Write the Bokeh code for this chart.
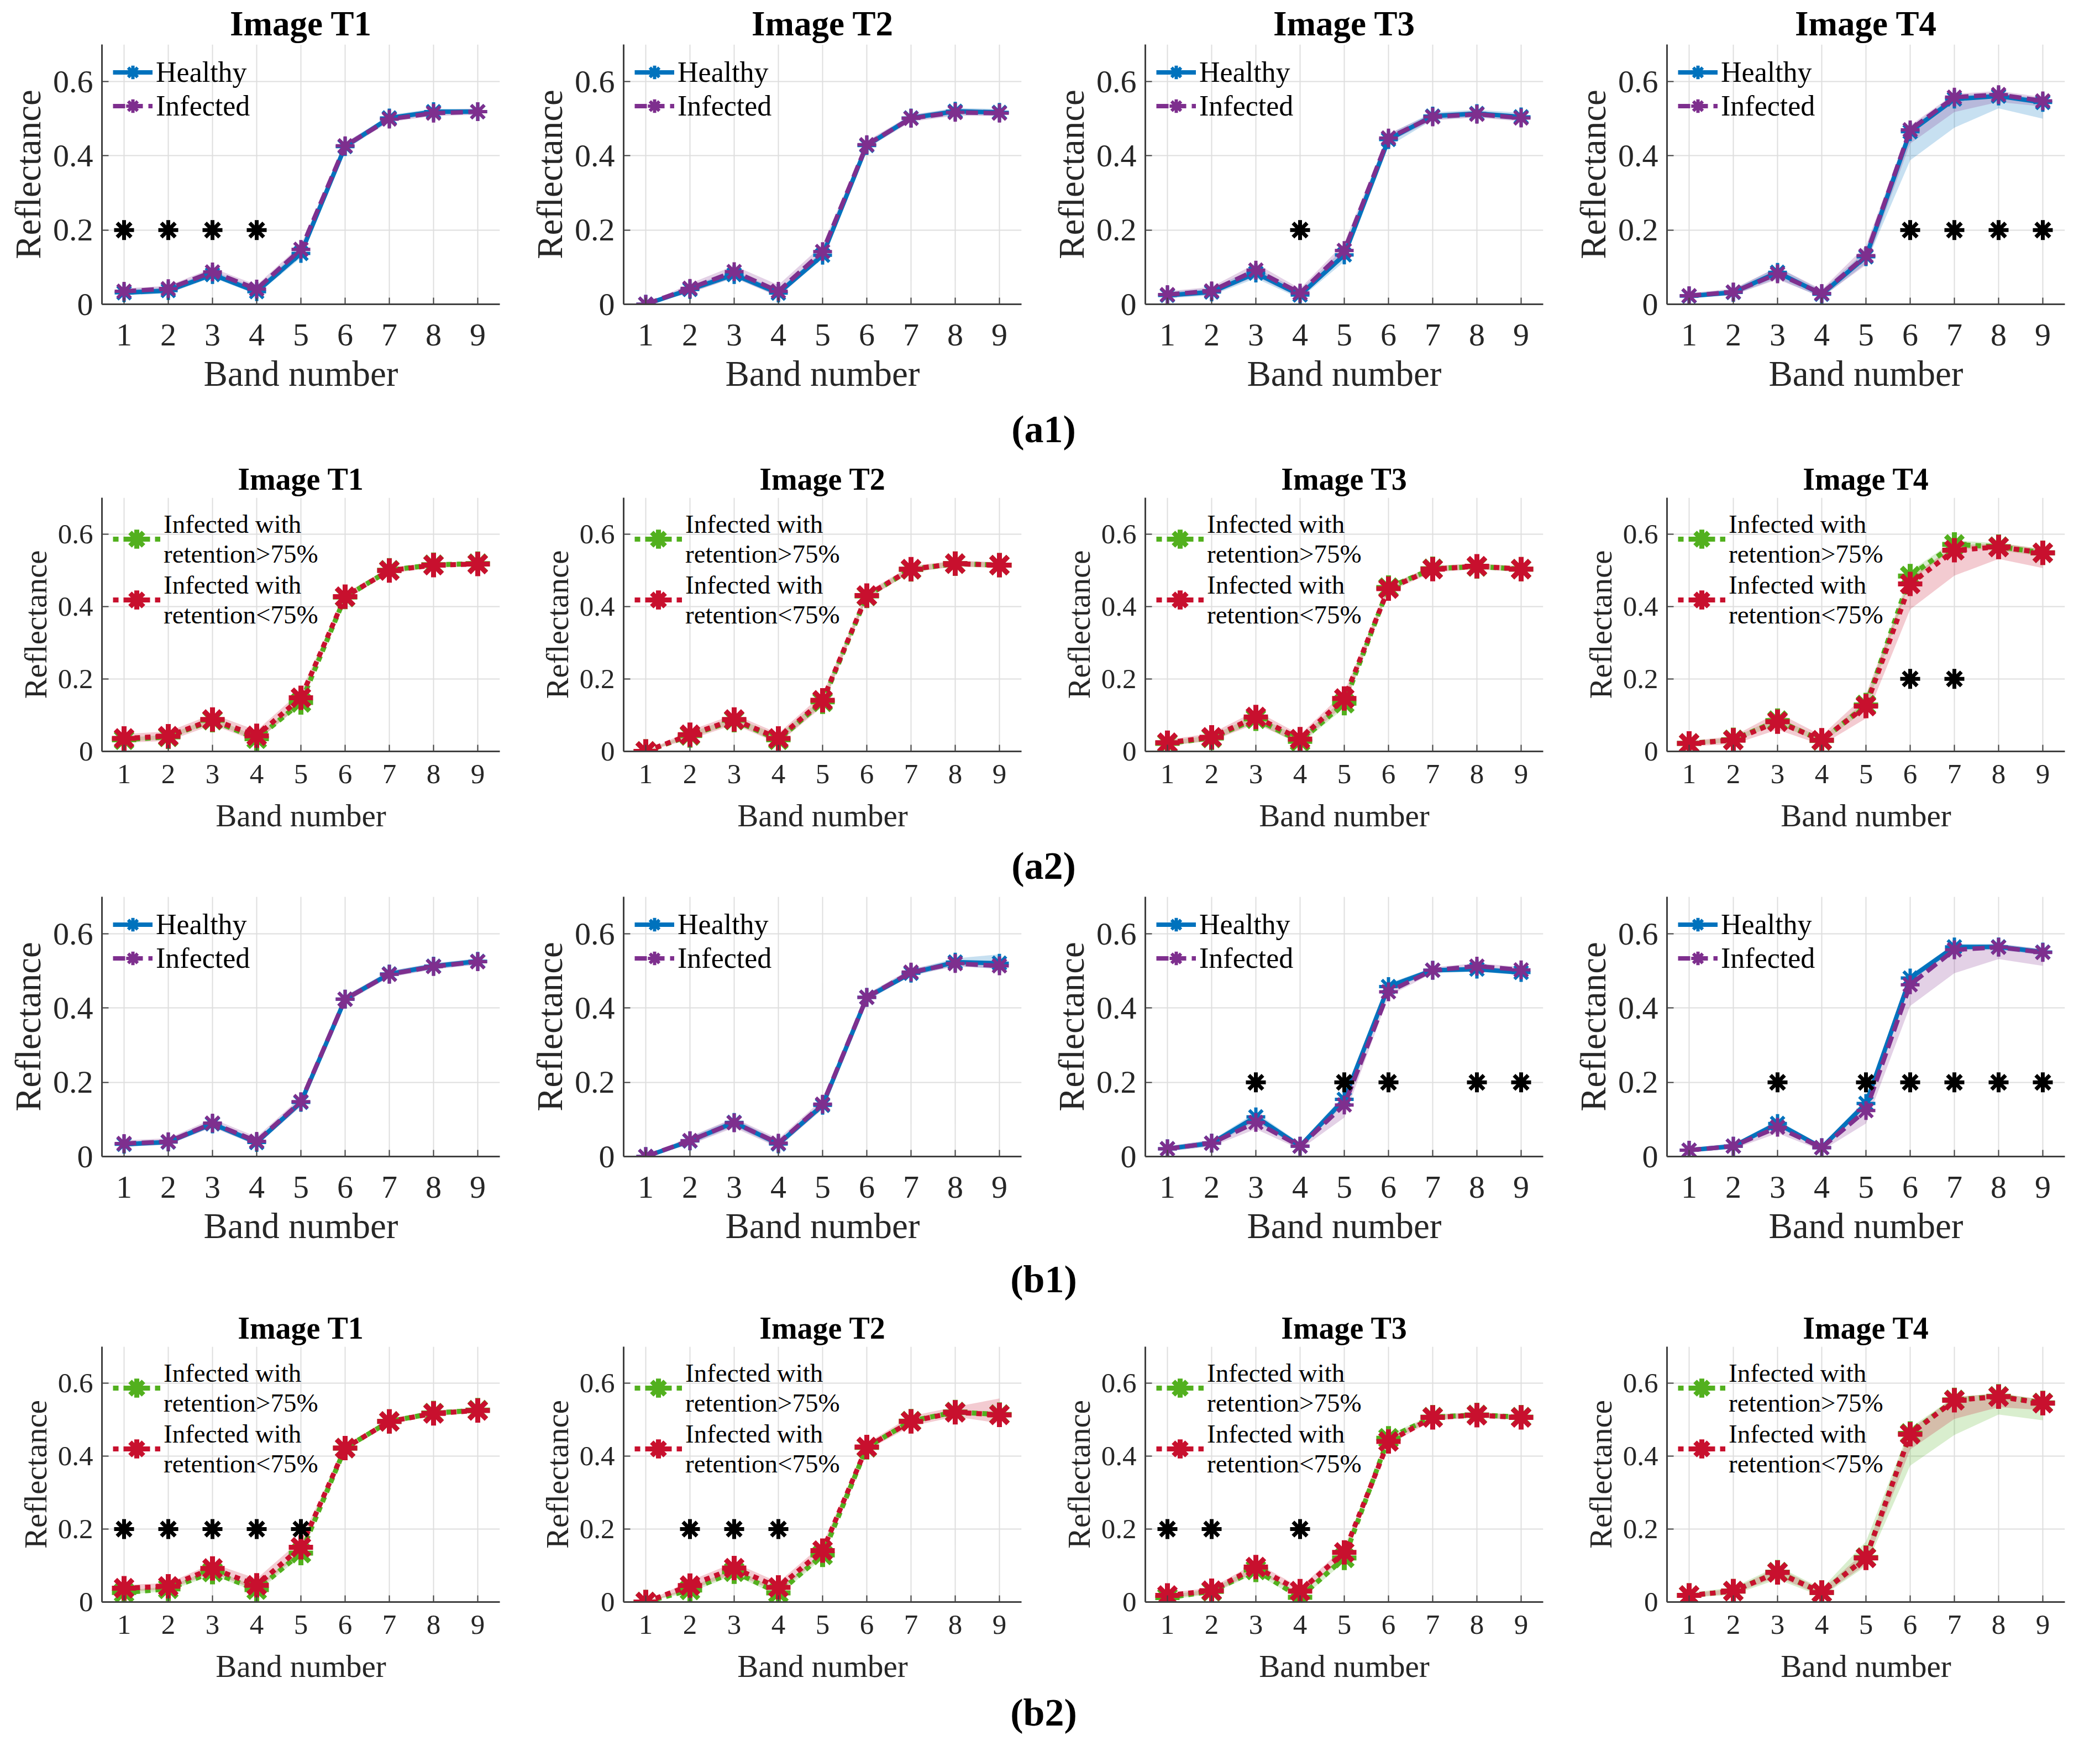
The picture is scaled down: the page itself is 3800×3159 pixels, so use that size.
from bokeh.plotting import figure
from bokeh.layouts import column, row
from bokeh.models import Legend, LegendItem, FixedTicker, Label, Range1d
from bokeh.embed import file_html
from bokeh.resources import INLINE

# ---------------- data ----------------
BANDS = [1, 2, 3, 4, 5, 6, 7, 8, 9]
Y_TICKS = [0, 0.2, 0.4, 0.6]
Y_TICK_LABELS = ["0", "0.2", "0.4", "0.6"]
IMAGES = ["Image T1", "Image T2", "Image T3", "Image T4"]
STAR_LEVEL = 0.2
ROW_LABELS = ["(a1)", "(a2)", "(b1)", "(b2)"]

# (a1) Healthy vs Infected
A1_T1_H = [0.031, 0.037, 0.080, 0.034, 0.137, 0.425, 0.502, 0.519, 0.519]
A1_T1_H_LO = [0.024, 0.029, 0.072, 0.026, 0.125, 0.416, 0.494, 0.511, 0.511]
A1_T1_H_HI = [0.040, 0.046, 0.090, 0.044, 0.150, 0.434, 0.510, 0.527, 0.527]
A1_T1_I = [0.035, 0.042, 0.087, 0.041, 0.148, 0.427, 0.499, 0.515, 0.519]
A1_T1_I_LO = [0.028, 0.034, 0.077, 0.031, 0.135, 0.418, 0.491, 0.507, 0.511]
A1_T1_I_HI = [0.043, 0.050, 0.098, 0.052, 0.160, 0.436, 0.507, 0.523, 0.527]
A1_T1_STARS = [1, 2, 3, 4]

A1_T2_H = [0.0, 0.040, 0.080, 0.030, 0.132, 0.428, 0.502, 0.520, 0.517]
A1_T2_H_LO = [0.0, 0.032, 0.071, 0.022, 0.122, 0.420, 0.494, 0.511, 0.509]
A1_T2_H_HI = [0.0, 0.049, 0.090, 0.039, 0.143, 0.437, 0.510, 0.529, 0.526]
A1_T2_I = [0.0, 0.043, 0.088, 0.035, 0.142, 0.430, 0.501, 0.517, 0.515]
A1_T2_I_LO = [0.0, 0.030, 0.072, 0.020, 0.125, 0.420, 0.492, 0.508, 0.507]
A1_T2_I_HI = [0.0, 0.056, 0.104, 0.052, 0.160, 0.440, 0.510, 0.527, 0.524]
A1_T2_STARS = []

A1_T3_H = [0.024, 0.033, 0.084, 0.025, 0.133, 0.444, 0.507, 0.514, 0.505]
A1_T3_H_LO = [0.016, 0.024, 0.070, 0.015, 0.115, 0.425, 0.497, 0.505, 0.495]
A1_T3_H_HI = [0.033, 0.043, 0.098, 0.036, 0.152, 0.458, 0.517, 0.524, 0.516]
A1_T3_I = [0.026, 0.036, 0.092, 0.030, 0.145, 0.448, 0.505, 0.512, 0.502]
A1_T3_I_LO = [0.018, 0.026, 0.075, 0.018, 0.125, 0.437, 0.496, 0.503, 0.493]
A1_T3_I_HI = [0.035, 0.047, 0.110, 0.042, 0.165, 0.460, 0.514, 0.521, 0.511]
A1_T3_STARS = [4]

A1_T4_H = [0.022, 0.032, 0.086, 0.027, 0.128, 0.465, 0.553, 0.561, 0.544]
A1_T4_H_LO = [0.016, 0.025, 0.070, 0.018, 0.110, 0.388, 0.476, 0.528, 0.500]
A1_T4_H_HI = [0.029, 0.040, 0.100, 0.037, 0.145, 0.478, 0.562, 0.570, 0.553]
A1_T4_I = [0.023, 0.033, 0.082, 0.029, 0.131, 0.470, 0.558, 0.565, 0.548]
A1_T4_I_LO = [0.017, 0.025, 0.067, 0.019, 0.106, 0.433, 0.518, 0.545, 0.533]
A1_T4_I_HI = [0.030, 0.042, 0.100, 0.040, 0.158, 0.482, 0.567, 0.575, 0.558]
A1_T4_STARS = [6, 7, 8, 9]

# (a2) Infected with retention >75% (G) vs <75% (R)
A2_T1_G = [0.032, 0.040, 0.086, 0.035, 0.135, 0.426, 0.500, 0.515, 0.518]
A2_T1_G_LO = [0.027, 0.034, 0.080, 0.029, 0.127, 0.420, 0.494, 0.509, 0.512]
A2_T1_G_HI = [0.038, 0.046, 0.093, 0.041, 0.143, 0.432, 0.506, 0.521, 0.524]
A2_T1_R = [0.036, 0.042, 0.088, 0.043, 0.148, 0.427, 0.499, 0.514, 0.517]
A2_T1_R_LO = [0.024, 0.029, 0.073, 0.028, 0.130, 0.418, 0.491, 0.507, 0.510]
A2_T1_R_HI = [0.048, 0.055, 0.103, 0.058, 0.166, 0.436, 0.507, 0.521, 0.524]
A2_T1_STARS = []

A2_T2_G = [0.0, 0.044, 0.086, 0.032, 0.137, 0.429, 0.502, 0.518, 0.514]
A2_T2_G_LO = [0.0, 0.037, 0.078, 0.024, 0.128, 0.422, 0.495, 0.511, 0.507]
A2_T2_G_HI = [0.0, 0.051, 0.094, 0.045, 0.147, 0.436, 0.509, 0.525, 0.521]
A2_T2_R = [0.0, 0.046, 0.088, 0.036, 0.141, 0.430, 0.503, 0.518, 0.514]
A2_T2_R_LO = [0.0, 0.033, 0.074, 0.022, 0.124, 0.420, 0.494, 0.510, 0.506]
A2_T2_R_HI = [0.0, 0.058, 0.102, 0.050, 0.158, 0.440, 0.512, 0.526, 0.522]
A2_T2_STARS = []

A2_T3_G = [0.022, 0.037, 0.090, 0.028, 0.133, 0.452, 0.504, 0.510, 0.503]
A2_T3_G_LO = [0.016, 0.030, 0.080, 0.018, 0.120, 0.443, 0.497, 0.503, 0.496]
A2_T3_G_HI = [0.029, 0.044, 0.100, 0.038, 0.147, 0.460, 0.511, 0.518, 0.510]
A2_T3_R = [0.024, 0.039, 0.095, 0.034, 0.146, 0.449, 0.503, 0.511, 0.503]
A2_T3_R_LO = [0.016, 0.029, 0.076, 0.022, 0.128, 0.440, 0.494, 0.503, 0.495]
A2_T3_R_HI = [0.032, 0.050, 0.112, 0.046, 0.164, 0.458, 0.512, 0.519, 0.511]
A2_T3_STARS = []

A2_T4_G = [0.022, 0.032, 0.085, 0.030, 0.128, 0.484, 0.571, 0.565, 0.548]
A2_T4_G_LO = [0.017, 0.026, 0.076, 0.023, 0.115, 0.470, 0.560, 0.555, 0.538]
A2_T4_G_HI = [0.027, 0.038, 0.094, 0.037, 0.141, 0.497, 0.582, 0.575, 0.558]
A2_T4_R = [0.022, 0.031, 0.082, 0.031, 0.125, 0.462, 0.555, 0.564, 0.548]
A2_T4_R_LO = [0.015, 0.020, 0.060, 0.018, 0.091, 0.392, 0.485, 0.531, 0.506]
A2_T4_R_HI = [0.029, 0.042, 0.107, 0.044, 0.157, 0.480, 0.568, 0.575, 0.558]
A2_T4_STARS = [6, 7]

# (b1) Healthy vs Infected
B1_T1_H = [0.033, 0.039, 0.088, 0.038, 0.146, 0.424, 0.492, 0.513, 0.526]
B1_T1_H_LO = [0.026, 0.032, 0.080, 0.030, 0.136, 0.416, 0.484, 0.505, 0.518]
B1_T1_H_HI = [0.040, 0.046, 0.096, 0.046, 0.156, 0.432, 0.500, 0.521, 0.534]
B1_T1_I = [0.035, 0.040, 0.090, 0.041, 0.148, 0.424, 0.491, 0.512, 0.525]
B1_T1_I_LO = [0.027, 0.032, 0.079, 0.030, 0.135, 0.415, 0.483, 0.504, 0.517]
B1_T1_I_HI = [0.044, 0.049, 0.102, 0.053, 0.160, 0.433, 0.500, 0.520, 0.533]
B1_T1_STARS = []

B1_T2_H = [0.0, 0.042, 0.092, 0.034, 0.138, 0.429, 0.494, 0.524, 0.521]
B1_T2_H_LO = [0.0, 0.033, 0.082, 0.026, 0.128, 0.421, 0.486, 0.515, 0.505]
B1_T2_H_HI = [0.0, 0.052, 0.102, 0.043, 0.148, 0.438, 0.503, 0.534, 0.545]
B1_T2_I = [0.0, 0.043, 0.091, 0.036, 0.141, 0.429, 0.497, 0.520, 0.514]
B1_T2_I_LO = [0.0, 0.032, 0.078, 0.024, 0.128, 0.420, 0.488, 0.512, 0.506]
B1_T2_I_HI = [0.0, 0.054, 0.104, 0.048, 0.154, 0.438, 0.506, 0.528, 0.522]
B1_T2_STARS = []

B1_T3_H = [0.021, 0.036, 0.107, 0.028, 0.154, 0.458, 0.502, 0.505, 0.496]
B1_T3_H_LO = [0.014, 0.028, 0.095, 0.020, 0.142, 0.449, 0.495, 0.498, 0.489]
B1_T3_H_HI = [0.028, 0.044, 0.119, 0.036, 0.166, 0.467, 0.509, 0.512, 0.503]
B1_T3_I = [0.021, 0.036, 0.092, 0.028, 0.139, 0.444, 0.502, 0.513, 0.503]
B1_T3_I_LO = [0.014, 0.027, 0.074, 0.019, 0.105, 0.432, 0.494, 0.505, 0.495]
B1_T3_I_HI = [0.028, 0.045, 0.105, 0.037, 0.150, 0.452, 0.510, 0.521, 0.511]
B1_T3_STARS = [3, 5, 6, 8, 9]

B1_T4_H = [0.017, 0.028, 0.089, 0.024, 0.143, 0.481, 0.565, 0.565, 0.551]
B1_T4_H_LO = [0.012, 0.022, 0.080, 0.018, 0.132, 0.472, 0.557, 0.557, 0.543]
B1_T4_H_HI = [0.022, 0.034, 0.098, 0.030, 0.155, 0.490, 0.573, 0.573, 0.559]
B1_T4_I = [0.017, 0.028, 0.079, 0.024, 0.124, 0.463, 0.557, 0.564, 0.550]
B1_T4_I_LO = [0.011, 0.020, 0.063, 0.016, 0.089, 0.406, 0.494, 0.532, 0.514]
B1_T4_I_HI = [0.023, 0.036, 0.090, 0.032, 0.136, 0.474, 0.566, 0.573, 0.559]
B1_T4_STARS = [3, 5, 6, 7, 8, 9]

# (b2) Infected with retention >75% (G) vs <75% (R)
B2_T1_G = [0.026, 0.036, 0.082, 0.034, 0.134, 0.422, 0.495, 0.518, 0.526]
B2_T1_G_LO = [0.020, 0.030, 0.074, 0.027, 0.124, 0.415, 0.488, 0.511, 0.519]
B2_T1_G_HI = [0.032, 0.042, 0.090, 0.041, 0.144, 0.429, 0.502, 0.525, 0.533]
B2_T1_R = [0.038, 0.043, 0.092, 0.046, 0.150, 0.422, 0.495, 0.517, 0.525]
B2_T1_R_LO = [0.029, 0.034, 0.080, 0.032, 0.135, 0.415, 0.488, 0.510, 0.518]
B2_T1_R_HI = [0.047, 0.052, 0.106, 0.064, 0.170, 0.430, 0.502, 0.524, 0.532]
B2_T1_STARS = [1, 2, 3, 4, 5]

B2_T2_G = [0.0, 0.033, 0.083, 0.025, 0.129, 0.424, 0.496, 0.521, 0.514]
B2_T2_G_LO = [0.0, 0.026, 0.074, 0.017, 0.120, 0.417, 0.489, 0.514, 0.507]
B2_T2_G_HI = [0.0, 0.040, 0.092, 0.033, 0.138, 0.431, 0.503, 0.528, 0.521]
B2_T2_R = [0.0, 0.045, 0.093, 0.040, 0.141, 0.425, 0.495, 0.520, 0.513]
B2_T2_R_LO = [0.0, 0.032, 0.078, 0.026, 0.126, 0.416, 0.482, 0.508, 0.490]
B2_T2_R_HI = [0.0, 0.058, 0.108, 0.054, 0.158, 0.435, 0.510, 0.535, 0.558]
B2_T2_STARS = [2, 3, 4]

B2_T3_G = [0.012, 0.029, 0.088, 0.013, 0.121, 0.449, 0.507, 0.513, 0.507]
B2_T3_G_LO = [0.006, 0.022, 0.078, 0.006, 0.110, 0.440, 0.500, 0.506, 0.500]
B2_T3_G_HI = [0.018, 0.036, 0.098, 0.020, 0.132, 0.458, 0.514, 0.520, 0.514]
B2_T3_R = [0.018, 0.031, 0.096, 0.030, 0.136, 0.440, 0.506, 0.512, 0.506]
B2_T3_R_LO = [0.011, 0.023, 0.084, 0.020, 0.122, 0.431, 0.498, 0.505, 0.499]
B2_T3_R_HI = [0.025, 0.039, 0.108, 0.040, 0.150, 0.449, 0.514, 0.519, 0.513]
B2_T3_STARS = [1, 2, 4]

B2_T4_G = [0.018, 0.030, 0.082, 0.026, 0.122, 0.462, 0.554, 0.564, 0.546]
B2_T4_G_LO = [0.012, 0.020, 0.062, 0.015, 0.098, 0.374, 0.458, 0.514, 0.498]
B2_T4_G_HI = [0.025, 0.040, 0.098, 0.037, 0.166, 0.478, 0.562, 0.572, 0.555]
B2_T4_R = [0.018, 0.030, 0.081, 0.026, 0.121, 0.460, 0.553, 0.563, 0.545]
B2_T4_R_LO = [0.013, 0.023, 0.068, 0.018, 0.103, 0.418, 0.502, 0.534, 0.526]
B2_T4_R_HI = [0.024, 0.036, 0.094, 0.034, 0.140, 0.472, 0.562, 0.572, 0.555]
B2_T4_STARS = []

# ---------------- styles ----------------
FONT = "Liberation Serif"
TEXT_COLOR = "#262626"
BLUE = "#0072BD"
PURPLE = "#7E2F8E"
GREEN = "#52B01E"
RED = "#C8102E"

SERIES_HI = [("Healthy", BLUE, "solid"), ("Infected", PURPLE, "22 10")]
SERIES_RET = [("Infected with\nretention>75%", GREEN, "10 9"),
              ("Infected with\nretention<75%", RED, "10 9")]

BIG = dict(title=63, tick=58, label=65, legend=52, lw=8, msize=34, mlw=6,
           glyph_w=72, glyph_h=61, tick_standoff=36, label_standoff=12)
SMALL = dict(title=56, tick=51, label=57, legend=47, lw=9, msize=44, mlw=9,
             glyph_w=86, glyph_h=110, tick_standoff=24, label_standoff=24)

PANEL_W = 944


def make_panel(title, data, series, stars, st, height, top, bottom):
    p = figure(width=PANEL_W, height=height,
               x_range=Range1d(0.5, 9.5), y_range=Range1d(0, 0.7),
               output_backend="svg", toolbar_location=None,
               min_border_left=184, min_border_right=40,
               min_border_top=top, min_border_bottom=bottom,
               title=title)
    p.outline_line_color = None
    p.background_fill_color = "white"
    if title:
        p.title.align = "center"
        p.title.text_font = FONT
        p.title.text_font_size = f"{st['title']}px"
        p.title.text_font_style = "bold"
        p.title.text_color = "black"
        p.title.standoff = 6

    # shaded spreads
    for (name, color, dash), (mean, lo, hi) in zip(series, data):
        p.varea(x=BANDS, y1=lo, y2=hi, fill_color=color, fill_alpha=0.22)

    items = []
    for (name, color, dash), (mean, lo, hi) in zip(series, data):
        ln = p.line(BANDS, mean, line_color=color, line_width=st["lw"], line_dash=dash)
        mk = p.scatter(BANDS, mean, marker="asterisk", size=st["msize"],
                       line_color=color, line_width=st["mlw"])
        items.append(LegendItem(label=name, renderers=[ln, mk]))

    if stars:
        p.scatter(stars, [STAR_LEVEL] * len(stars), marker="asterisk",
                  size=36, line_color="black", line_width=7)

    leg = Legend(items=items, location="top_left",
                 background_fill_alpha=0, border_line_alpha=0,
                 label_text_font=FONT, label_text_font_size=f"{st['legend']}px",
                 label_text_color="black",
                 glyph_width=st["glyph_w"], glyph_height=st["glyph_h"],
                 label_height=st["glyph_h"],
                 spacing=0, padding=4, margin=16, label_standoff=6)
    p.add_layout(leg)

    # axes
    p.xaxis.ticker = FixedTicker(ticks=BANDS)
    p.yaxis.ticker = FixedTicker(ticks=Y_TICKS)
    p.yaxis.major_label_overrides = {t: s for t, s in zip(Y_TICKS, Y_TICK_LABELS)}
    p.xaxis.axis_label = "Band number"
    p.yaxis.axis_label = "Reflectance"
    for ax in (p.xaxis[0], p.yaxis[0]):
        ax.axis_label_text_font = FONT
        ax.axis_label_text_font_style = "normal"
        ax.axis_label_text_font_size = f"{st['label']}px"
        ax.axis_label_text_color = TEXT_COLOR
        ax.major_label_text_font = FONT
        ax.major_label_text_font_size = f"{st['tick']}px"
        ax.major_label_text_color = TEXT_COLOR
        ax.axis_line_color = "#404040"
        ax.axis_line_width = 3
        ax.major_tick_line_color = "#404040"
        ax.major_tick_line_width = 2
        ax.major_tick_in = 12
        ax.major_tick_out = 0
        ax.minor_tick_line_color = None
    p.xaxis.major_label_standoff = st["tick_standoff"]
    p.xaxis.axis_label_standoff = st["label_standoff"]
    p.yaxis.major_label_standoff = 16
    p.yaxis.axis_label_standoff = 6
    p.yaxis.major_label_orientation = "horizontal"

    for g in (p.xgrid[0], p.ygrid[0]):
        g.grid_line_color = "#dedede"
        g.grid_line_width = 2
    return p


def make_strip(text, height, center_from_top):
    width = PANEL_W * 4
    s = figure(width=width, height=height, x_range=Range1d(0, 1), y_range=Range1d(0, 1),
               output_backend="svg", toolbar_location=None,
               x_axis_location=None, y_axis_location=None, min_border=0)
    s.outline_line_color = None
    s.grid.visible = False
    s.add_layout(Label(x=width / 2, y=height - center_from_top, x_units="screen", y_units="screen",
                       text=text, text_align="center", text_baseline="middle",
                       text_font=FONT, text_font_size="70px", text_font_style="bold",
                       text_color="black"))
    return s


ROW_A1 = [
    ((A1_T1_H, A1_T1_H_LO, A1_T1_H_HI), (A1_T1_I, A1_T1_I_LO, A1_T1_I_HI), A1_T1_STARS),
    ((A1_T2_H, A1_T2_H_LO, A1_T2_H_HI), (A1_T2_I, A1_T2_I_LO, A1_T2_I_HI), A1_T2_STARS),
    ((A1_T3_H, A1_T3_H_LO, A1_T3_H_HI), (A1_T3_I, A1_T3_I_LO, A1_T3_I_HI), A1_T3_STARS),
    ((A1_T4_H, A1_T4_H_LO, A1_T4_H_HI), (A1_T4_I, A1_T4_I_LO, A1_T4_I_HI), A1_T4_STARS),
]
ROW_A2 = [
    ((A2_T1_G, A2_T1_G_LO, A2_T1_G_HI), (A2_T1_R, A2_T1_R_LO, A2_T1_R_HI), A2_T1_STARS),
    ((A2_T2_G, A2_T2_G_LO, A2_T2_G_HI), (A2_T2_R, A2_T2_R_LO, A2_T2_R_HI), A2_T2_STARS),
    ((A2_T3_G, A2_T3_G_LO, A2_T3_G_HI), (A2_T3_R, A2_T3_R_LO, A2_T3_R_HI), A2_T3_STARS),
    ((A2_T4_G, A2_T4_G_LO, A2_T4_G_HI), (A2_T4_R, A2_T4_R_LO, A2_T4_R_HI), A2_T4_STARS),
]
ROW_B1 = [
    ((B1_T1_H, B1_T1_H_LO, B1_T1_H_HI), (B1_T1_I, B1_T1_I_LO, B1_T1_I_HI), B1_T1_STARS),
    ((B1_T2_H, B1_T2_H_LO, B1_T2_H_HI), (B1_T2_I, B1_T2_I_LO, B1_T2_I_HI), B1_T2_STARS),
    ((B1_T3_H, B1_T3_H_LO, B1_T3_H_HI), (B1_T3_I, B1_T3_I_LO, B1_T3_I_HI), B1_T3_STARS),
    ((B1_T4_H, B1_T4_H_LO, B1_T4_H_HI), (B1_T4_I, B1_T4_I_LO, B1_T4_I_HI), B1_T4_STARS),
]
ROW_B2 = [
    ((B2_T1_G, B2_T1_G_LO, B2_T1_G_HI), (B2_T1_R, B2_T1_R_LO, B2_T1_R_HI), B2_T1_STARS),
    ((B2_T2_G, B2_T2_G_LO, B2_T2_G_HI), (B2_T2_R, B2_T2_R_LO, B2_T2_R_HI), B2_T2_STARS),
    ((B2_T3_G, B2_T3_G_LO, B2_T3_G_HI), (B2_T3_R, B2_T3_R_LO, B2_T3_R_HI), B2_T3_STARS),
    ((B2_T4_G, B2_T4_G_LO, B2_T4_G_HI), (B2_T4_R, B2_T4_R_LO, B2_T4_R_HI), B2_T4_STARS),
]


def make_row(rowdata, series, st, with_titles, height, top, bottom):
    figs = []
    for i, (s1, s2, stars) in enumerate(rowdata):
        figs.append(make_panel(IMAGES[i] if with_titles else None, [s1, s2], series,
                               stars, st, height, top, bottom))
    return row(*figs)


layout = column(
    make_row(ROW_A1, SERIES_HI, BIG, True, 718, 80, 168),      # 0 - 718
    make_strip(ROW_LABELS[0], 112, 58),                         # 718 - 830
    make_row(ROW_A2, SERIES_RET, SMALL, True, 684, 69, 155),    # 830 - 1514
    make_strip(ROW_LABELS[1], 104, 52),                         # 1514 - 1618
    make_row(ROW_B1, SERIES_HI, BIG, False, 644, 4, 170),       # 1618 - 2262
    make_strip(ROW_LABELS[2], 104, 52),                         # 2262 - 2366
    make_row(ROW_B2, SERIES_RET, SMALL, True, 682, 68, 150),    # 2366 - 3048
    make_strip(ROW_LABELS[3], 100, 50),                         # 3048 - 3148
)

open("out.html", "w").write(file_html(layout, INLINE))
